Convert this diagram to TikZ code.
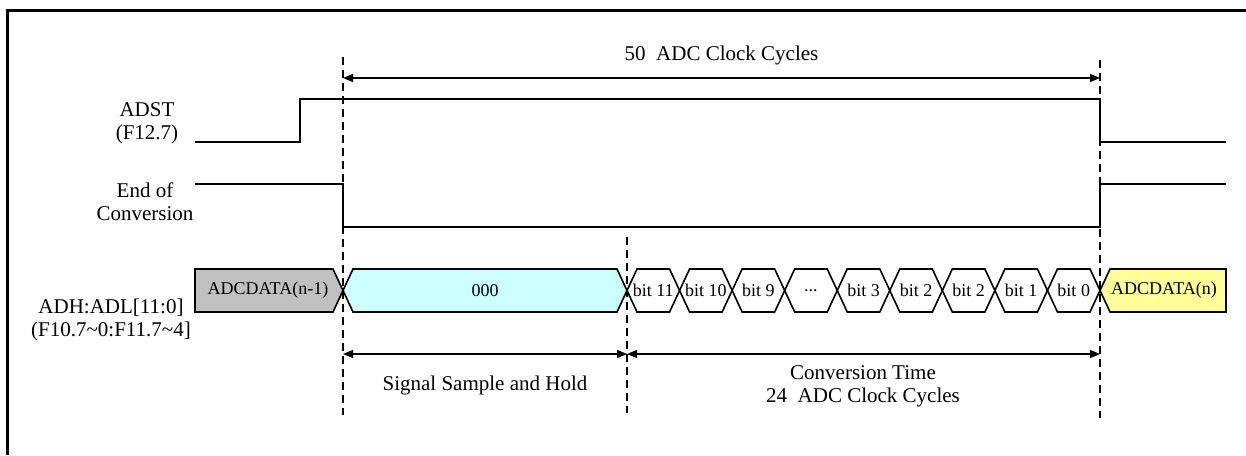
\documentclass[tikz,border=0pt]{standalone}
\usepackage{fontspec}
\setmainfont{Liberation Serif}
\usetikzlibrary{arrows.meta}
\definecolor{busgrey}{RGB}{192,192,192}
\definecolor{buscyan}{RGB}{204,255,255}
\definecolor{busyellow}{RGB}{255,255,153}
\newcommand\threedots{...}
\tikzset{
  wave/.style={line width=1.8pt},
  busline/.style={line width=1.6pt, line join=miter},
  guide/.style={line width=1.6pt, dash pattern=on 8pt off 5pt},
  dim/.style={line width=1.1pt, {Triangle[length=10pt,width=8pt]}-{Triangle[length=10pt,width=8pt]}},
  lbl/.style={font=\fontsize{21}{23}\selectfont, align=center, inner sep=0pt},
  buslbl/.style={font=\fontsize{18}{20}\selectfont, inner sep=0pt},
}
\begin{document}
\begin{tikzpicture}[x=1pt,y=-1pt]
\useasboundingbox (0,0) rectangle (1246,455);
% frame
\draw[line width=3pt] (7.5,455) -- (7.5,10.5) -- (1246,10.5);
% guide lines
\coordinate (g1t) at (343,57);  \coordinate (g1b) at (343,415);
\coordinate (g2t) at (627,237); \coordinate (g2b) at (627,413);
\coordinate (g3t) at (1100,60); \coordinate (g3b) at (1100,418);
\draw[guide] (g1t) -- (g1b);
\draw[guide] (g2t) -- (g2b);
\draw[guide] (g3t) -- (g3b);
% dimension arrows
\coordinate (a1) at (343,78); \coordinate (a2) at (1100,78);
\draw[dim] (a1) -- (a2);
\node[lbl] (top) at (721.5,55) {50\ \ ADC Clock Cycles};
\coordinate (d1) at (343,354); \coordinate (d2) at (627,354); \coordinate (d3) at (1100,354);
\draw[dim] (d1) -- (d2);
\draw[dim] (d2) -- (d3);
\node[lbl] (sh) at (485,385) {Signal Sample and Hold};
\node[lbl] (ct) at (863,386) {Conversion Time\\24\ \ ADC Clock Cycles};
% ADST
\node[lbl] (adst) at (147,123.5) {ADST\\(F12.7)};
\draw[wave] (195,142) -- (300,142) -- (300,99) -- (1100,99) -- (1100,142) -- (1226,142);
% End of conversion
\node[lbl] (eoc) at (145,201.5) {End of\\Conversion};
\draw[wave] (195,184) -- (343,184) -- (343,227) -- (1100,227) -- (1100,184) -- (1226,184);
% bus
\node[lbl] (bus) at (111,320) {ADH:ADL[11:0]\\(F10.7\textasciitilde 0:F11.7\textasciitilde 4]};
\draw[busline, fill=busgrey] (195,269) -- (333,269) -- (343,290.5) -- (333,312) -- (195,312) -- cycle;
\node[buslbl] (dprev) at (268,290.5) {ADCDATA(n-1)};
\draw[busline, fill=buscyan] (343,290.5) -- (353,269) -- (617,269) -- (627,290.5) -- (617,312) -- (353,312) -- cycle;
\node[buslbl] (zero) at (485,290.5) {000};
\foreach \i/\t in {0/bit 11,1/bit 10,2/bit 9,3/\threedots,4/bit 3,5/bit 2,6/bit 2,7/bit 1,8/bit 0}{
  \pgfmathsetmacro\xa{627+\i*52.556}
  \pgfmathsetmacro\xb{627+(\i+1)*52.556}
  \draw[busline] (\xa,290.5) -- (\xa+10,269) -- (\xb-10,269) -- (\xb,290.5) -- (\xb-10,312) -- (\xa+10,312) -- cycle;
  \node[buslbl] (b\i) at ({(\xa+\xb)/2},290.5) {\t};
}
\draw[busline, fill=busyellow] (1100,290.5) -- (1110,269) -- (1226,269) -- (1226,312) -- (1110,312) -- cycle;
\node[buslbl] (dnext) at (1164,290.5) {ADCDATA(n)};
\end{tikzpicture}
\end{document}
